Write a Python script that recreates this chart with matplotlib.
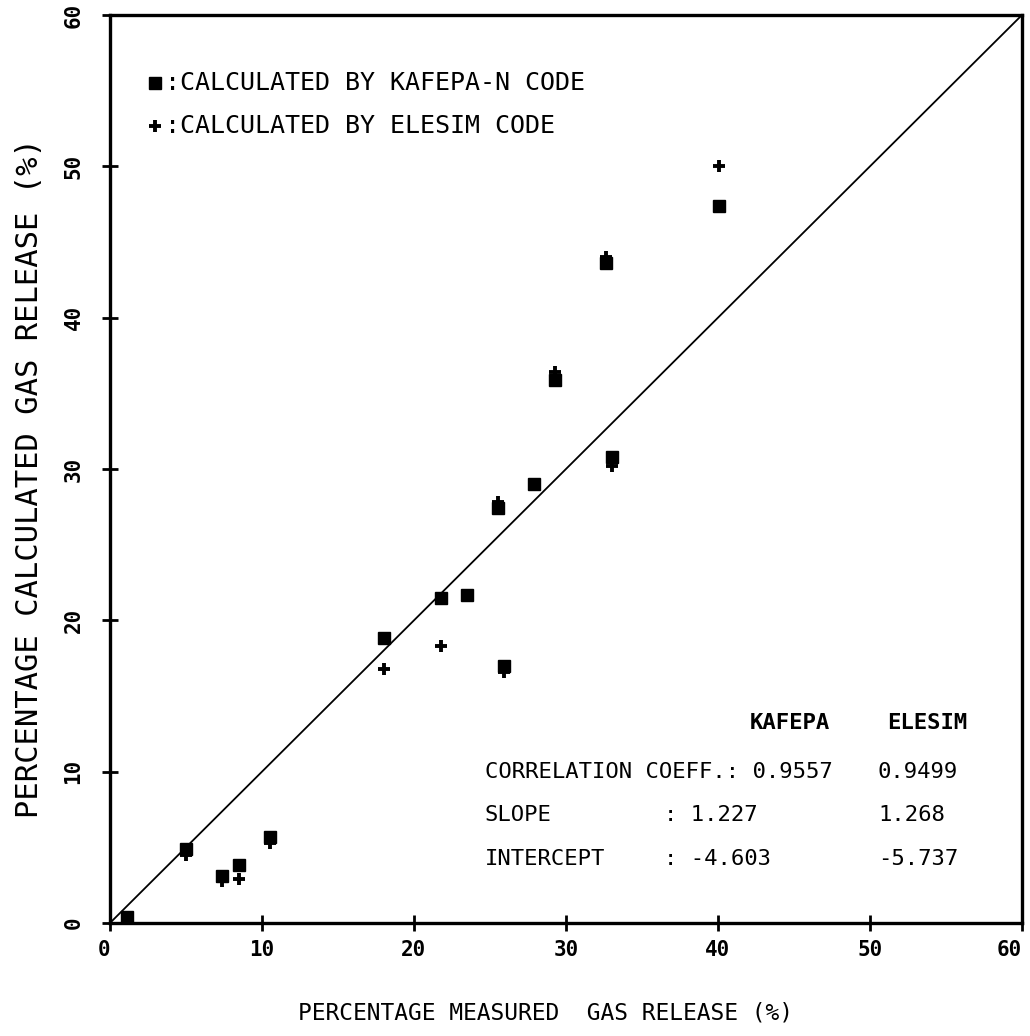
import matplotlib.pyplot as plt

# measured vs calculated fission gas release (%)
measured = [1.1, 5.0, 7.4, 8.5, 10.5, 18.0, 21.8, 23.5, 25.5, 25.9, 27.9, 29.3, 33.0, 32.6, 40.1]
kafepa = [0.4, 4.9, 3.1, 3.8, 5.7, 18.8, 21.5, 21.7, 27.4, 17.0, 29.0, 35.9, 30.8, 43.6, 47.4]
elesim = [0.4, 4.5, 2.8, 2.9, 5.3, 16.8, 18.3, 21.7, 27.8, 16.6, 29.0, 36.4, 30.2, 44.0, 50.0]

ticks = [0, 10, 20, 30, 40, 50, 60]

stat_names = ["CORRELATION COEFF.:", "SLOPE", "INTERCEPT"]
kafepa_stats = ["0.9557", "1.227", "-4.603"]
elesim_stats = ["0.9499", "1.268", "-5.737"]

plt.rcParams['font.family'] = ['DejaVu Sans Mono']

fig = plt.figure(figsize=(10.30, 10.36), dpi=100)
ax = fig.add_axes([0.1068, 0.1091, 0.8854, 0.8764])

# 1:1 line
ax.plot([0, 60], [0, 60], color='black', lw=1.3)

ax.plot(measured, elesim, linestyle='none', marker='+', color='black',
        markersize=9, markeredgewidth=2.8)
ax.plot(measured, kafepa, linestyle='none', marker='s', color='black',
        markersize=9)

ax.set_xlim(0, 60)
ax.set_ylim(0, 60)
ax.set_xticks(ticks)
ax.set_yticks(ticks)
ax.tick_params(direction='inout', length=12, width=2, labelsize=15)
ax.tick_params(axis='x', pad=6)
ax.tick_params(axis='y', pad=13)
for lab in ax.get_xticklabels():
    lab.set_fontweight('bold')
xl = ax.get_xticklabels()
xl[0].set_ha('right')
xl[-1].set_ha('right')
for lab in ax.get_yticklabels():
    lab.set_rotation(90)
    lab.set_va('center')
    lab.set_fontweight('bold')
for s in ax.spines.values():
    s.set_linewidth(2.4)

# legend drawn by hand
ax.plot([0.049], [0.925], marker='s', color='black', markersize=8,
        transform=ax.transAxes, clip_on=False)
ax.text(0.060, 0.925, ":CALCULATED BY KAFEPA-N CODE", transform=ax.transAxes,
        fontsize=18, va='center')
ax.plot([0.049], [0.878], marker='+', color='black', markersize=9,
        markeredgewidth=2.8, transform=ax.transAxes, clip_on=False)
ax.text(0.060, 0.878, ":CALCULATED BY ELESIM CODE", transform=ax.transAxes,
        fontsize=18, va='center')

# statistics table
row_y = [0.166, 0.119, 0.071]
ax.text(0.702, 0.220, "KAFEPA", transform=ax.transAxes, fontsize=16,
        va='center', fontweight='bold')
ax.text(0.852, 0.220, "ELESIM", transform=ax.transAxes, fontsize=16,
        va='center', fontweight='bold')
for i, name in enumerate(stat_names):
    y = row_y[i]
    if i == 0:
        ax.text(0.411, y, name + " " + kafepa_stats[i], transform=ax.transAxes,
                fontsize=16, va='center')
    else:
        ax.text(0.411, y, name, transform=ax.transAxes, fontsize=16, va='center')
        ax.text(0.608, y, ": " + kafepa_stats[i], transform=ax.transAxes,
                fontsize=16, va='center')
    ax.text(0.842, y, elesim_stats[i], transform=ax.transAxes, fontsize=16,
            va='center')

fig.text(546 / 1030, 1 - 1013 / 1036, "PERCENTAGE MEASURED  GAS RELEASE (%)",
         ha='center', va='center', fontsize=16.5)
fig.text(30 / 1030, 1 - 478 / 1036, "PERCENTAGE CALCULATED GAS RELEASE (%)",
         ha='center', va='center', rotation=90, fontsize=22)

fig.savefig('out.png', dpi=100)
